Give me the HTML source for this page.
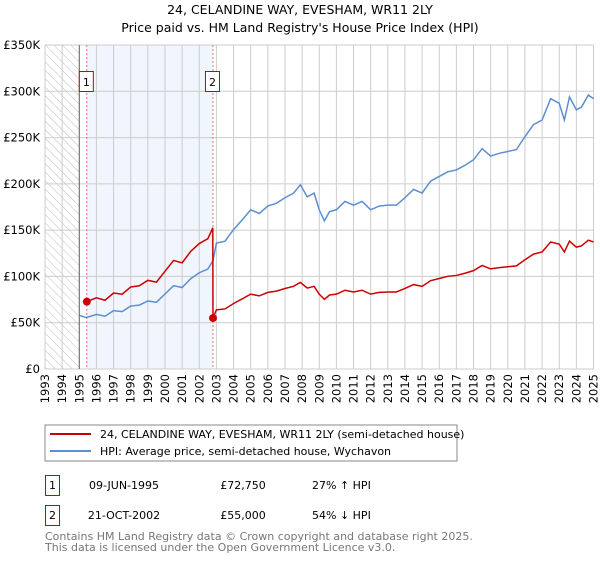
<!DOCTYPE html>
<html><head><meta charset="utf-8"><style>
body{margin:0;background:#fff;font-family:"DejaVu Sans","Liberation Sans",sans-serif;}
svg text{font-family:"DejaVu Sans","Liberation Sans",sans-serif;}
</style></head><body>
<svg id="c" width="600" height="560" viewBox="0 0 600 560">
<defs><pattern id="hatch" width="6" height="6" patternUnits="userSpaceOnUse" patternTransform="rotate(-45)"><line x1="0" y1="0" x2="0" y2="6" stroke="#bbb" stroke-width="1"/></pattern></defs>
<text x="300" y="14" text-anchor="middle" font-size="12.5" fill="#000">24, CELANDINE WAY, EVESHAM, WR11 2LY</text>
<text x="300" y="32" text-anchor="middle" font-size="12.5" fill="#000">Price paid vs. HM Land Registry's House Price Index (HPI)</text>
<g id="plot"></g>
<rect x="45" y="425" width="412" height="36" fill="#fff" stroke="#888"/>
<line x1="50" y1="434" x2="91" y2="434" stroke="#cc0000" stroke-width="2"/>
<text x="100" y="438" font-size="11">24, CELANDINE WAY, EVESHAM, WR11 2LY (semi-detached house)</text>
<line x1="50" y1="451" x2="91" y2="451" stroke="#5b8fd0" stroke-width="2"/>
<text x="100" y="455" font-size="11">HPI: Average price, semi-detached house, Wychavon</text>
<g>
<rect x="45.5" y="475.5" width="14" height="20" fill="#fff" stroke="#cc0000"/>
<text x="52.5" y="489" text-anchor="middle" font-size="11">1</text>
<text x="124" y="489" text-anchor="middle" font-size="11">09-JUN-1995</text>
<text x="243" y="489" text-anchor="middle" font-size="11">£72,750</text>
<text x="312" y="489" font-size="11">27% ↑ HPI</text></g>
<g>
<rect x="45.5" y="505.5" width="14" height="20" fill="#fff" stroke="#cc0000"/>
<text x="52.5" y="519" text-anchor="middle" font-size="11">2</text>
<text x="124" y="519" text-anchor="middle" font-size="11">21-OCT-2002</text>
<text x="243" y="519" text-anchor="middle" font-size="11">£55,000</text>
<text x="312" y="519" font-size="11">54% ↓ HPI</text></g>
<text x="45" y="540" font-size="11" fill="#777">Contains HM Land Registry data © Crown copyright and database right 2025.</text>
<text x="45" y="551" font-size="11" fill="#777">This data is licensed under the Open Government Licence v3.0.</text>
</svg>
<script>
const hpiYears=[1995.0,1995.4,1996,1996.5,1997,1997.5,1998,1998.5,1999,1999.5,2000,2000.5,2001,2001.5,2002,2002.5,2002.8,2003,2003.5,2004,2004.5,2005,2005.5,2006,2006.5,2007,2007.5,2007.9,2008.3,2008.7,2009.0,2009.3,2009.6,2010,2010.5,2011,2011.5,2012,2012.5,2013,2013.5,2014,2014.5,2015,2015.5,2016,2016.5,2017,2017.5,2018,2018.5,2019,2019.5,2020,2020.5,2021,2021.5,2022,2022.5,2023,2023.3,2023.6,2024,2024.3,2024.7,2025];
const hpiValues=[58000,55600,59000,57000,63000,62000,68000,69000,73500,72000,81000,90000,88000,97500,104000,108000,117000,136000,138000,150600,161000,172000,168000,176000,179000,185000,190000,199000,186000,190000,172000,160000,170000,172000,181000,177000,181000,172000,176000,177000,177000,185000,194000,190000,203000,208000,213000,215000,220000,226000,238000,230000,233000,235000,237000,251000,264000,269000,292000,287000,269000,294000,280000,283000,296000,292000];
const saleDates=[1995.44,2002.8];
const salePrices=[72750,55000];
const yTicks=[0,50000,100000,150000,200000,250000,300000,350000];
const yTickLabels=["£0","£50K","£100K","£150K","£200K","£250K","£300K","£350K"];
const xStart=1993,xEnd=2025;
const X0=45,X1=593.5,Y0=369,Y1=45,VMAX=350000;
const sx=t=>X0+(t-xStart)/(xEnd-xStart)*(X1-X0);
const sy=v=>Y0-v/VMAX*(Y0-Y1);
const NS="http://www.w3.org/2000/svg";
const g=document.getElementById('plot');
function mk(tag,attrs,parent){const e=document.createElementNS(NS,tag);for(const k in attrs)e.setAttribute(k,attrs[k]);(parent||g).appendChild(e);return e;}
function hpiAt(t){for(let i=0;i<hpiYears.length-1;i++){if(t<=hpiYears[i+1]){const f=(t-hpiYears[i])/(hpiYears[i+1]-hpiYears[i]);return hpiValues[i]+f*(hpiValues[i+1]-hpiValues[i]);}}return hpiValues[hpiValues.length-1];}
let e;
e=mk('rect',{x:sx(xStart),y:Y1,width:sx(1995)-sx(xStart),height:Y0-Y1,fill:'url(#hatch)'});


e=mk('rect',{x:sx(saleDates[0]),y:Y1,width:sx(saleDates[1])-sx(saleDates[0]),height:Y0-Y1,fill:'#eef3fc',opacity:0.8});


for(let yr=xStart;yr<=xEnd;yr++){
 e=mk('line',{x1:sx(yr),x2:sx(yr),y1:Y1,y2:Y0,stroke:'#ccc','stroke-width':1});
 
 
 const tx=sx(yr)+4;
 e=mk('text',{x:0,y:0,transform:`translate(${tx},374) rotate(-90)`,'text-anchor':'end','font-size':11.5,fill:'#000'});
 e.textContent=yr;
 
 
}
yTicks.forEach((v,i)=>{
 e=mk('line',{x1:X0,x2:X1,y1:sy(v),y2:sy(v),stroke:'#ccc','stroke-width':1});
 
 
 e=mk('text',{x:40,y:sy(v)+4,'text-anchor':'end','font-size':11.5,fill:'#000'});
 e.textContent=yTickLabels[i];
 
 
});
e=mk('line',{x1:sx(1995),x2:sx(1995),y1:Y1,y2:Y0,stroke:'#666','stroke-width':1});


saleDates.forEach((d,i)=>{
 e=mk('line',{x1:sx(d),x2:sx(d),y1:Y1,y2:Y0,stroke:'#f07070','stroke-width':1,'stroke-dasharray':'2,2'});
 
 
 e=mk('rect',{x:sx(d)-7.5,y:71.5,width:14,height:20,fill:'#fff',stroke:'#cc0000'});
 
 
 e=mk('text',{x:sx(d)-0.5,y:86,'text-anchor':'middle','font-size':11});
 e.textContent=String(i+1);
 
 
});
e=mk('polyline',{points:hpiYears.map((t,i)=>sx(t)+','+sy(hpiValues[i])).join(' '),fill:'none',stroke:'#5b8fd0','stroke-width':1.5});


const pts=[];
const f1=salePrices[0]/hpiAt(saleDates[0]),f2=salePrices[1]/hpiAt(saleDates[1]);
pts.push([saleDates[0],salePrices[0]]);
hpiYears.forEach((t,i)=>{if(t>saleDates[0]&&t<saleDates[1])pts.push([t,hpiValues[i]*f1]);});
pts.push([saleDates[1]-0.01,hpiAt(saleDates[1])*f1]);
pts.push([saleDates[1],salePrices[1]]);
hpiYears.forEach((t,i)=>{if(t>saleDates[1])pts.push([t,hpiValues[i]*f2]);});
e=mk('polyline',{points:pts.map(p=>sx(p[0])+','+sy(p[1])).join(' '),fill:'none',stroke:'#cc0000','stroke-width':1.5});


saleDates.forEach((d,i)=>{
 e=mk('circle',{cx:sx(d),cy:sy(salePrices[i]),r:4,fill:'#cc0000'});
 
 
});
</script>
</body></html>
